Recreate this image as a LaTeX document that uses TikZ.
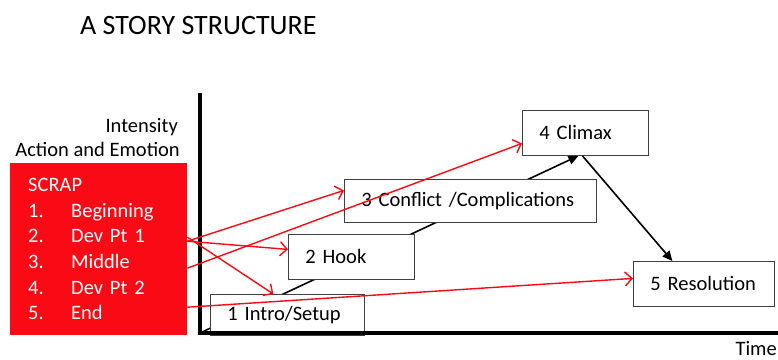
\documentclass[tikz,border=0pt]{standalone}
\usepackage{fontspec}
\setmainfont{Carlito}
\usetikzlibrary{arrows.meta,calc,backgrounds}
\definecolor{scrapred}{RGB}{250,10,20}

\begin{document}
\begin{tikzpicture}[x=1pt,y=-1pt,
  stagebox/.style={draw=black!75,line width=0.8pt,fill=white,anchor=north west,align=left,inner xsep=17pt,inner ysep=0pt,font=\fontsize{20.5}{24}\selectfont},
  plaintext/.style={inner sep=0pt,font=\fontsize{20.5}{24}\selectfont},
  blackarrow/.style={line width=1.6pt,-{Triangle[length=10pt,width=9pt]}},
  redarrow/.style={draw=scrapred,line width=1.4pt,-{Straight Barb[length=7pt,width=14pt,line width=1.4pt]}}]
\useasboundingbox (0,0) rectangle (778,359);
\node[plaintext,anchor=base west,font=\fontsize{28}{30}\selectfont] (title) at (80,34) {A STORY STRUCTURE};
\node[plaintext,anchor=base east] (intensity) at (178,132) {Intensity};
\node[plaintext,anchor=base east] (emotion) at (180,156) {Action and Emotion};
\node[plaintext,anchor=base east] (time) at (777,355) {Time};
% the red list
\node[fill=scrapred,anchor=north west,minimum width=177pt,minimum height=172pt,text width=141pt,inner xsep=18pt,align=left,text=white,font=\fontsize{20.5}{25.6}\selectfont] (scrap) at (10,163)
  {SCRAP\\ \makebox[43pt][l]{1.}Beginning\\ \makebox[43pt][l]{2.}Dev Pt 1\\ \makebox[43pt][l]{3.}Middle\\ \makebox[43pt][l]{4.}Dev Pt 2\\ \makebox[43pt][l]{5.}End};
% the stages
\node[stagebox,text width=120pt,minimum height=41pt] (intro) at (210,294) {1 Intro/Setup};
\node[stagebox,text width=92pt,minimum height=45pt] (hook) at (288,234) {2 Hook};
\node[stagebox,text width=218pt,minimum height=43pt] (conflict) at (344,179) {3 Conflict /Complications};
\node[stagebox,text width=92pt,minimum height=45pt] (climax) at (522,110) {4 Climax};
\node[stagebox,text width=107pt,minimum height=45pt] (resolution) at (633,261) {5 Resolution};
% axes
\coordinate (origin) at (200,333);
\coordinate (ytop) at (200,93);
\coordinate (xend) at (780,333);
\begin{scope}[on background layer]
\draw[blackarrow] (origin) -- ([xshift=-7pt]climax.south);
\end{scope}
\draw[blackarrow] ([xshift=-3pt]climax.south) -- ([xshift=-31.5pt]resolution.north);
\draw[line width=4.5pt] (ytop) -- (origin) -- (xend);
% red arrows
\draw[redarrow] ([yshift=8pt]scrap.east) -- ([yshift=10.5pt]conflict.west);
\draw[redarrow] ([yshift=8pt]scrap.east) -- ([yshift=7.5pt]hook.west);
\draw[redarrow] ([yshift=12pt]scrap.east) -- ([xshift=-14pt]intro.north);
\draw[redarrow] ([yshift=-19pt]scrap.east) -- ([yshift=-10.5pt]climax.west);
\draw[redarrow] ([yshift=-58pt]scrap.east) -- ([yshift=5.5pt]resolution.west);
\end{tikzpicture}
\end{document}
